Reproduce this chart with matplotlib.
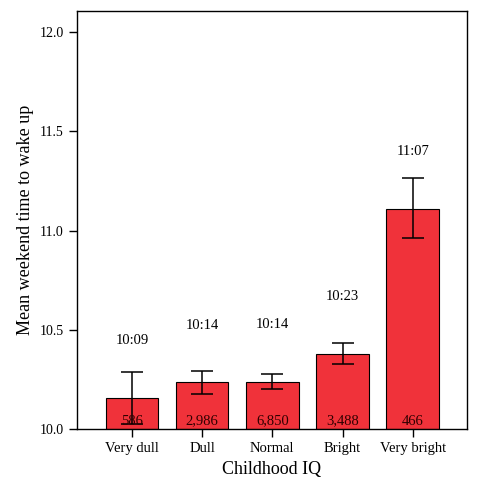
import matplotlib
matplotlib.use("Agg")
import matplotlib.pyplot as plt

categories = ["Very dull", "Dull", "Normal", "Bright", "Very bright"]
means = [10.155, 10.235, 10.239, 10.380, 11.11]
err_low = [10.027, 10.175, 10.202, 10.326, 10.963]
err_high = [10.286, 10.294, 10.278, 10.432, 11.264]
time_labels = ["10:09", "10:14", "10:14", "10:23", "11:07"]
time_label_y = [10.444, 10.520, 10.525, 10.668, 11.398]
counts = ["586", "2,986", "6,850", "3,488", "466"]

plt.rcParams['font.family'] = ['Liberation Serif', 'DejaVu Serif']
fig = plt.figure(figsize=(4.98, 4.98), dpi=100)
ax = fig.add_axes([77/498, 1-429/498, 390/498, 418/498])
x = range(len(categories))
base = 10.0
ax.bar(x, [m - base for m in means], bottom=base, width=0.75,
       color="#f0323a", edgecolor="black", linewidth=0.8)
yerr = [[m - l for m, l in zip(means, err_low)], [h - m for m, h in zip(means, err_high)]]
ax.errorbar(x, means, yerr=yerr, fmt="none", ecolor="black", elinewidth=1.1, capsize=8, capthick=1.1)
for i in x:
    ax.text(i, time_label_y[i], time_labels[i], ha="center", va="center", fontsize=10.5)
    ax.text(i, 10.04, counts[i], ha="center", va="center", fontsize=10.5, color="#300000")
ax.set_xlim(-0.784, 4.774)
ax.set_ylim(10.0, 12.106)
ax.set_yticks([10.0, 10.5, 11.0, 11.5, 12.0])
ax.set_yticklabels(["10.0", "10.5", "11.0", "11.5", "12.0"], fontsize=10)
ax.set_xticks(list(x))
ax.set_xticklabels(categories, fontsize=10.5)
ax.tick_params(axis="both", direction="out", length=6, width=1)
ax.set_xlabel("Childhood IQ", fontsize=13)
ax.set_ylabel("Mean weekend time to wake up", fontsize=13)
for s in ax.spines.values():
    s.set_linewidth(1)
fig.savefig("out.png", dpi=100)
